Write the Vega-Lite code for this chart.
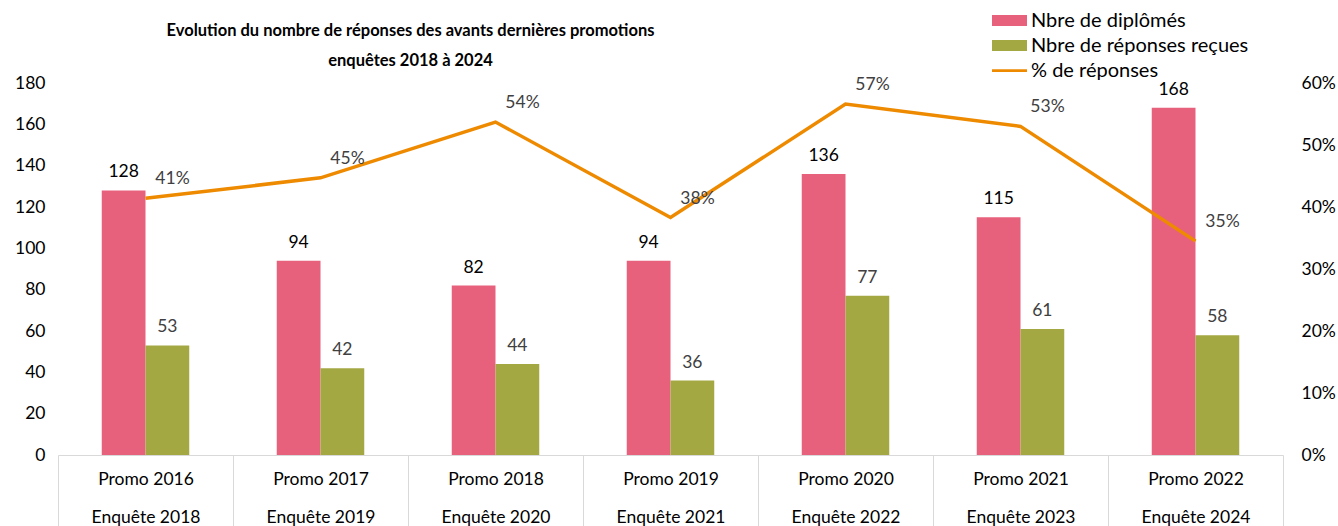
{
  "$schema": "https://vega.github.io/schema/vega-lite/v6.json",
  "autosize": {"type": "none"},
  "width": 1225,
  "height": 372,
  "padding": {"left": 58, "top": 83, "right": 55, "bottom": 71},
  "background": "white",
  "config": {
    "view": {"stroke": null},
    "font": "Lato",
    "axis": {"labelFont": "Lato", "labelFontSize": 17.5, "labelColor": "#000000", "grid": false, "title": null}
  },
  "title": {
    "text": ["Evolution du nombre de réponses des avants dernières promotions", "enquêtes 2018 à 2024"],
    "font": "Lato",
    "fontSize": 16.5,
    "fontWeight": "bold",
    "color": "#000000",
    "lineHeight": 30,
    "anchor": "middle",
    "frame": "group",
    "dx": -260,
    "dy": 61,
    "offset": 0
  },
  "datasets": {
    "bars": [
      {"cat": "Promo 2016|Enquête 2018", "serie": "Nbre de diplômés", "value": 128},
      {"cat": "Promo 2016|Enquête 2018", "serie": "Nbre de réponses reçues", "value": 53},
      {"cat": "Promo 2017|Enquête 2019", "serie": "Nbre de diplômés", "value": 94},
      {"cat": "Promo 2017|Enquête 2019", "serie": "Nbre de réponses reçues", "value": 42},
      {"cat": "Promo 2018|Enquête 2020", "serie": "Nbre de diplômés", "value": 82},
      {"cat": "Promo 2018|Enquête 2020", "serie": "Nbre de réponses reçues", "value": 44},
      {"cat": "Promo 2019|Enquête 2021", "serie": "Nbre de diplômés", "value": 94},
      {"cat": "Promo 2019|Enquête 2021", "serie": "Nbre de réponses reçues", "value": 36},
      {"cat": "Promo 2020|Enquête 2022", "serie": "Nbre de diplômés", "value": 136},
      {"cat": "Promo 2020|Enquête 2022", "serie": "Nbre de réponses reçues", "value": 77},
      {"cat": "Promo 2021|Enquête 2023", "serie": "Nbre de diplômés", "value": 115},
      {"cat": "Promo 2021|Enquête 2023", "serie": "Nbre de réponses reçues", "value": 61},
      {"cat": "Promo 2022|Enquête 2024", "serie": "Nbre de diplômés", "value": 168},
      {"cat": "Promo 2022|Enquête 2024", "serie": "Nbre de réponses reçues", "value": 58}
    ],
    "pct": [
      {"cat": "Promo 2016|Enquête 2018", "pct": 0.414},
      {"cat": "Promo 2017|Enquête 2019", "pct": 0.447},
      {"cat": "Promo 2018|Enquête 2020", "pct": 0.537},
      {"cat": "Promo 2019|Enquête 2021", "pct": 0.383},
      {"cat": "Promo 2020|Enquête 2022", "pct": 0.566},
      {"cat": "Promo 2021|Enquête 2023", "pct": 0.530},
      {"cat": "Promo 2022|Enquête 2024", "pct": 0.345}
    ]
  },
  "encoding": {
    "x": {
      "field": "cat",
      "type": "nominal",
      "sort": null,
      "scale": {"paddingInner": 0, "paddingOuter": 0},
      "axis": {
        "labelExpr": "split(datum.label, '|')",
        "labelAngle": 0,
        "labelLineHeight": 38,
        "labelPadding": -60,
        "labelBaseline": "top",
        "tickBand": "extent",
        "tickSize": 75,
        "tickColor": "#d9d9d9",
        "domainColor": "#d9d9d9",
        "labelLimit": 200
      }
    }
  },
  "layer": [
    {
      "data": {"name": "bars"},
      "mark": {"type": "bar"},
      "encoding": {
        "xOffset": {"field": "serie", "type": "nominal", "sort": ["Nbre de diplômés", "Nbre de réponses reçues"], "scale": {"paddingInner": 0, "paddingOuter": 1.083}},
        "y": {
          "field": "value", "type": "quantitative",
          "scale": {"domain": [0, 180], "nice": false},
          "axis": {"values": [0, 20, 40, 60, 80, 100, 120, 140, 160, 180], "domain": false, "ticks": false, "labelPadding": 13}
        },
        "color": {
          "field": "serie", "type": "nominal",
          "scale": {"domain": ["Nbre de diplômés", "Nbre de réponses reçues", "% de réponses"], "range": ["#E8617C", "#A4A843", "#EE8A00"]},
          "legend": {
            "title": null,
            "orient": "none",
            "legendX": 939,
            "legendY": -75,
            "labelFont": "Lato",
            "labelFontSize": 20,
            "labelColor": "#000000",
            "symbolSize": 625,
            "symbolStrokeWidth": 0,
            "symbolOpacity": 1,
            "labelOffset": 9,
            "rowPadding": 2,
            "labelLimit": 300,
            "symbolType": "M-1.4,-0.44H1.4V0.44H-1.4Z",
            "encode": {
              "symbols": {
                "update": {
                  "shape": {"signal": "datum.value === '% de réponses' ? 'M-1.4,-0.11H1.4V0.11H-1.4Z' : 'M-1.4,-0.44H1.4V0.44H-1.4Z'"}
                }
              }
            }
          }
        }
      }
    },
    {
      "data": {"name": "bars"},
      "mark": {"type": "text", "baseline": "bottom", "dy": -9, "fontSize": 17.5, "font": "Lato"},
      "encoding": {
        "xOffset": {"field": "serie", "type": "nominal", "sort": ["Nbre de diplômés", "Nbre de réponses reçues"], "scale": {"paddingInner": 0, "paddingOuter": 1.083}},
        "y": {"field": "value", "type": "quantitative", "scale": {"domain": [0, 180], "nice": false}, "axis": null},
        "text": {"field": "value", "type": "quantitative"},
        "color": {"condition": {"test": "datum.serie === 'Nbre de diplômés'", "value": "#000000"}, "value": "#404040"}
      }
    },
    {
      "data": {"name": "pct"},
      "mark": {"type": "line", "strokeWidth": 3.5},
      "encoding": {
        "y": {
          "field": "pct", "type": "quantitative",
          "scale": {"domain": [0, 0.6], "nice": false},
          "axis": {"orient": "right", "format": ".0%", "values": [0, 0.1, 0.2, 0.3, 0.4, 0.5, 0.6], "domain": false, "ticks": false, "labelPadding": 18}
        },
        "color": {"datum": "% de réponses"}
      }
    },
    {
      "data": {"name": "pct"},
      "mark": {"type": "text", "dx": 27, "dy": -19, "fontSize": 17.5, "font": "Lato", "color": "#404040"},
      "encoding": {
        "y": {"field": "pct", "type": "quantitative", "scale": {"domain": [0, 0.6], "nice": false}, "axis": null},
        "text": {"field": "pct", "type": "quantitative", "format": ".0%"}
      }
    }
  ],
  "resolve": {"scale": {"y": "independent"}, "axis": {"y": "independent"}}
}
